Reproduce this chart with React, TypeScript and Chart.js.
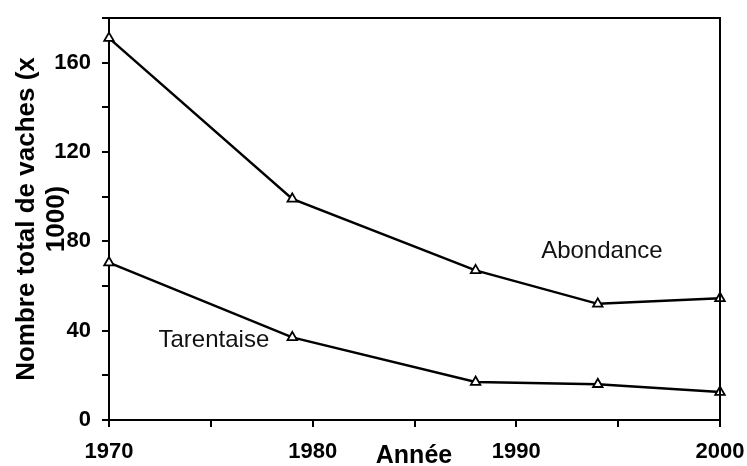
import React, { useEffect, useRef } from "react";
import { Chart, registerables } from "chart.js";

Chart.register(...registerables);

const years = [1970, 1979, 1988, 1994, 2000];
const abondance = [171, 99, 67, 52, 54.5];
const tarentaise = [70.5, 37, 17, 16, 12.5];
const yTickLabels = [0, 40, 80, 120, 160];
const xTickLabels = [1970, 1980, 1990, 2000];
const seriesLabels = ["Abondance", "Tarentaise"];
const labelAnchors = [
  { x: 1994.2, y: 75.7 },
  { x: 1975.15, y: 35.8 },
];
const yTitle = ["Nombre total de vaches (x", "1000)"];
const xTitle = "Année";

const FONT = "'Liberation Sans', Arial, sans-serif";

const annotationPlugin = {
  id: "annot",
  afterDraw(chart: any) {
    const { ctx, chartArea, scales } = chart;
    ctx.save();
    ctx.strokeStyle = "#000";
    ctx.lineWidth = 2;
    ctx.beginPath();
    ctx.moveTo(chartArea.left, chartArea.top);
    ctx.lineTo(chartArea.right, chartArea.top);
    ctx.lineTo(chartArea.right, chartArea.bottom);
    ctx.stroke();

    ctx.fillStyle = "#111";
    ctx.textAlign = "center";
    ctx.textBaseline = "middle";
    ctx.font = `24px ${FONT}`;
    seriesLabels.forEach((t, i) => {
      const px = scales.x.getPixelForValue(labelAnchors[i].x);
      const py = scales.y.getPixelForValue(labelAnchors[i].y);
      ctx.fillText(t, px, py);
    });

    ctx.fillStyle = "#000";
    ctx.font = `bold 25px ${FONT}`;
    ctx.fillText(xTitle, 414, 456);

    ctx.font = `bold 26px ${FONT}`;
    const cy = (chartArea.top + chartArea.bottom) / 2;
    ctx.translate(0, cy);
    ctx.rotate(-Math.PI / 2);
    ctx.fillText(yTitle[0], 0, 27);
    ctx.fillText(yTitle[1], 0, 57);
    ctx.restore();
  },
};

export default function App() {
  const ref = useRef<HTMLCanvasElement>(null);
  useEffect(() => {
    if (!ref.current) return;
    const mk = (vals: number[]) => years.map((x, i) => ({ x, y: vals[i] }));
    const ds = (label: string, vals: number[]) => ({
      label,
      data: mk(vals),
      borderColor: "#000",
      borderWidth: 2.5,
      pointStyle: "triangle",
      pointRadius: 5.5,
      pointBackgroundColor: "#fff",
      pointBorderColor: "#000",
      pointBorderWidth: 1.8,
      tension: 0,
      clip: false as any,
    });
    const chart = new Chart(ref.current, {
      type: "line",
      data: {
        datasets: [ds(seriesLabels[0], abondance), ds(seriesLabels[1], tarentaise)],
      },
      options: {
        animation: false,
        responsive: false,
        maintainAspectRatio: false,
        layout: { padding: { left: 0, right: 27, top: 18, bottom: 0 } },
        plugins: { legend: { display: false }, tooltip: { enabled: false } },
        scales: {
          x: {
            type: "linear",
            min: 1970,
            max: 2000,
            afterFit: (s: any) => {
              s.height = 46;
              s.paddingLeft = 0;
              s.paddingRight = 0;
            },
            ticks: {
              stepSize: 5,
              autoSkip: false,
              maxRotation: 0,
              padding: 12,
              color: "#000",
              font: { family: FONT, size: 22, weight: "bold" },
              callback: (v: any) => (xTickLabels.includes(Number(v)) ? String(v) : ""),
            },
            grid: {
              drawOnChartArea: false,
              drawTicks: true,
              tickLength: 7,
              color: "#000",
              lineWidth: 2,
            },
            border: { display: true, color: "#000", width: 2 },
          },
          y: {
            min: 0,
            max: 180,
            afterFit: (s: any) => {
              s.width = 109;
              s.paddingTop = 0;
              s.paddingBottom = 0;
            },
            ticks: {
              stepSize: 20,
              autoSkip: false,
              padding: 11,
              color: "#000",
              font: { family: FONT, size: 22, weight: "bold" },
              callback: (v: any) => (yTickLabels.includes(Number(v)) ? String(v) : ""),
            },
            grid: {
              drawOnChartArea: false,
              drawTicks: true,
              tickLength: 7,
              color: "#000",
              lineWidth: 2,
            },
            border: { display: true, color: "#000", width: 2 },
          },
        },
      },
      plugins: [annotationPlugin],
    } as any);
    return () => chart.destroy();
  }, []);
  return (
    <div style={{ position: "fixed", left: 0, top: 0, width: 747, height: 466, background: "#fff" }}>
      <canvas ref={ref} width={747} height={466} style={{ display: "block", width: 747, height: 466 }} />
    </div>
  );
}
